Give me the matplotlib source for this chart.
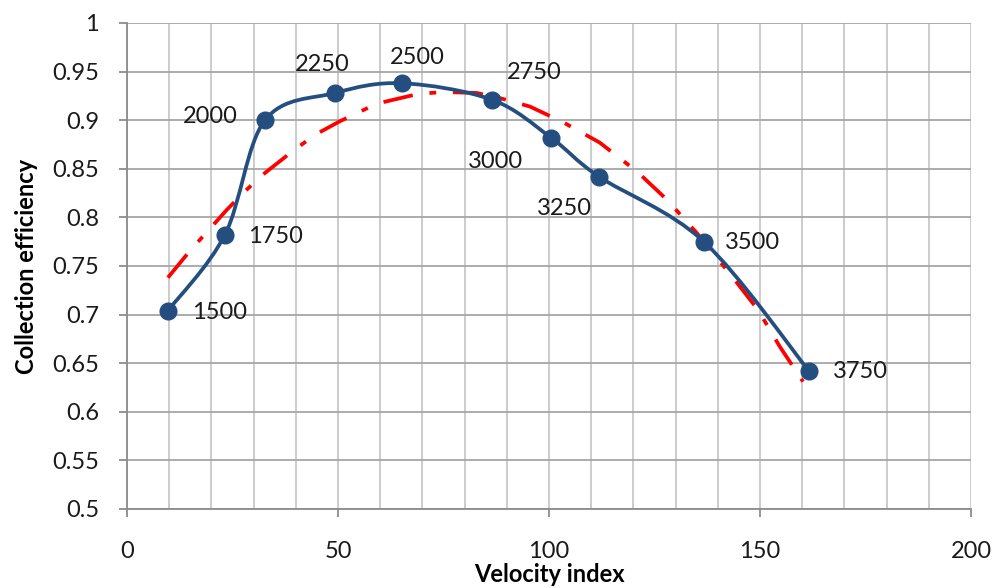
import matplotlib
matplotlib.use("Agg")
import matplotlib.pyplot as plt
from matplotlib.path import Path
import matplotlib.patches as patches
from matplotlib.ticker import MultipleLocator

# measured points (velocity index, collection efficiency) with their speed labels
vel_index = [9.7, 23.2, 32.7, 49.3, 65.2, 86.5, 100.5, 111.8, 136.7, 161.6]
efficiency = [0.704, 0.782, 0.900, 0.928, 0.938, 0.921, 0.882, 0.842, 0.775, 0.642]
speed_labels = ["1500", "1750", "2000", "2250", "2500", "2750", "3000", "3250", "3500", "3750"]

# trend line
trend_x = [9.7, 15, 20.4, 23.7, 28, 32.2, 39.8, 45, 50.5, 59.2, 69, 75, 82.9,
           89, 95.5, 103.3, 112, 120.9, 128, 135, 143.6, 149.5, 154.7, 160.2]
trend_y = [0.738, 0.766, 0.792, 0.808, 0.827, 0.844, 0.870, 0.886, 0.899, 0.917,
           0.927, 0.929, 0.928, 0.922, 0.914, 0.898, 0.877, 0.847, 0.818, 0.784,
           0.738, 0.705, 0.667, 0.631]

# label offsets in pixels and alignment
label_pos = [(24, -2, "left"), (23, -2, "left"), (-27, 4, "right"), (-13, 28, "center"),
             (15, 26, "center"), (15, 27, "left"), (-28, -24, "right"), (-7, -32, "right"),
             (21, -1, "left"), (24, -1, "left")]

BLUE = "#234E7F"
FONT = "Lato"


def smooth_path(xs, ys):
    pts = list(zip(xs, ys))
    ext = [pts[0]] + pts + [pts[-1]]
    verts = [pts[0]]
    codes = [Path.MOVETO]
    for i in range(1, len(ext) - 2):
        p0, p1, p2, p3 = ext[i - 1], ext[i], ext[i + 1], ext[i + 2]
        c1 = (p1[0] + (p2[0] - p0[0]) / 6, p1[1] + (p2[1] - p0[1]) / 6)
        c2 = (p2[0] - (p3[0] - p1[0]) / 6, p2[1] - (p3[1] - p1[1]) / 6)
        verts += [c1, c2, p2]
        codes += [Path.CURVE4] * 3
    return Path(verts, codes)


fig = plt.figure(figsize=(9.95, 5.88), dpi=100)
ax = fig.add_axes([0.1276, 0.1344, 0.8483, 0.8265])

ax.set_xlim(0, 200)
ax.set_ylim(0.5, 1.0)
ax.xaxis.set_major_locator(MultipleLocator(50))
ax.xaxis.set_minor_locator(MultipleLocator(10))
ax.yaxis.set_major_locator(MultipleLocator(0.05))

ax.grid(True, which="major", axis="y", color="#A6A6A6", linewidth=1.3)
ax.grid(True, which="minor", axis="x", color="#C8C8C8", linewidth=1.3)
ax.grid(True, which="major", axis="x", color="#C8C8C8", linewidth=1.3)
ax.set_axisbelow(True)
for side in ["top", "right"]:
    ax.spines[side].set_visible(False)
for side in ["left", "bottom"]:
    ax.spines[side].set_color("#8C8C8C")
    ax.spines[side].set_linewidth(1.3)

ax.tick_params(axis="both", which="major", direction="out", length=6, width=1.3,
               color="#8C8C8C", labelsize=17, labelcolor="#1a1a1a")
ax.tick_params(axis="x", which="minor", length=0)
ax.tick_params(axis="x", pad=17)
ax.tick_params(axis="y", pad=14)
for lab in ax.get_xticklabels() + ax.get_yticklabels():
    lab.set_fontfamily(FONT)
ax.yaxis.set_major_formatter(plt.FuncFormatter(lambda v, p: ("%.2f" % v).rstrip("0").rstrip(".")))

ax.plot(trend_x, trend_y, color="#FF0000", linewidth=2.7, dashes=(8, 4.5, 1.8, 4.5), zorder=3)

curve = patches.PathPatch(smooth_path(vel_index, efficiency), facecolor="none",
                          edgecolor=BLUE, linewidth=2.7, zorder=4)
ax.add_patch(curve)
ax.plot(vel_index, efficiency, "o", color=BLUE, markersize=12, zorder=5)

for x, y, s, (dx, dy, ha) in zip(vel_index, efficiency, speed_labels, label_pos):
    ax.annotate(s, (x, y), xytext=(dx, dy), textcoords="offset pixels",
                ha=ha, va="center", fontsize=17, family=FONT, color="#1a1a1a")

ax.set_xlabel("Velocity index", fontsize=17, fontweight="bold", family=FONT, labelpad=1)
ax.set_ylabel("Collection efficiency", fontsize=17, fontweight="bold", family=FONT, labelpad=10)

fig.savefig("out.png", dpi=100)
